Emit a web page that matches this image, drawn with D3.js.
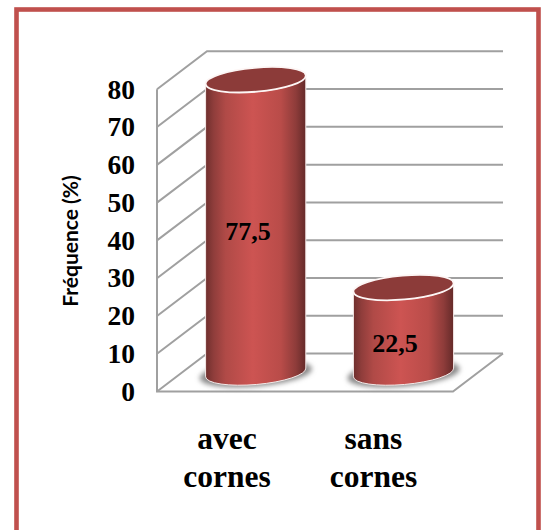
<!DOCTYPE html>
<html>
<head>
<meta charset="utf-8">
<script src="https://cdnjs.cloudflare.com/ajax/libs/d3/7.8.5/d3.min.js"></script>
<style>
html,body{margin:0;padding:0;background:#fff;overflow:hidden}
svg{display:block}
</style>
</head>
<body>
<svg id="chart" width="547" height="530"></svg>
<script>
// Chart data
const categories = [["avec", "cornes"], ["sans", "cornes"]];
const frequencies = [77.5, 22.5];
const valueLabels = ["77,5", "22,5"];
const tickValues = [0, 10, 20, 30, 40, 50, 60, 70, 80];
const axisTitle = "Fréquence (%)";

const svg = d3.select("#chart");
const defs = svg.append("defs");

// Pseudo-3D box: front plane plus a depth offset towards the back wall
const depthX = 50, depthY = -38;
const x = d3.scaleBand().domain([0, 1]).range([157, 453]).paddingInner(0.0).paddingOuter(0);
const y = d3.scaleLinear().domain([0, 80]).range([391.5, 89.3]);

// Red border round the whole figure
svg.append("rect")
  .attr("x", 16.5).attr("y", 9.5).attr("width", 522).attr("height", 540)
  .attr("fill", "#fff").attr("stroke", "#c0504d").attr("stroke-width", 4.6);

// Cylinder shading
const grad = defs.append("linearGradient").attr("id", "cyl");
[[0, "#6f2f2d"], [0.08, "#8f3d3b"], [0.2, "#b04a47"], [0.47, "#cd5452"], [0.75, "#b94c49"], [0.9, "#8e3c3a"], [1, "#642a29"]]
  .forEach(([o, c]) => grad.append("stop").attr("offset", o).attr("stop-color", c));
defs.append("filter").attr("id", "soft").attr("x", "-20%").attr("y", "-50%").attr("width", "140%").attr("height", "200%")
  .append("feGaussianBlur").attr("stdDeviation", 2.5);

// Walls and floor
const wall = svg.append("g").attr("fill", "none").attr("stroke", "#a0a0a0").attr("stroke-width", 2);
const [left, right] = x.range();
wall.selectAll("path.grid").data(tickValues).join("path").attr("class", "grid")
  .attr("d", d => d3.line()([
    [left, y(d)],
    [left + depthX, y(d) + depthY],
    [right + depthX, y(d) + depthY]
  ]));
wall.append("path").attr("d", d3.line()([[left, y(80)], [left, y(0)], [right, y(0)], [right + depthX, y(0) + depthY]]));

// Cylinders
const rx = 50.3, ry = 12, tilt = -5;
const cosT = Math.cos(tilt * Math.PI / 180), sinT = Math.sin(tilt * Math.PI / 180);
const baseY = y(0) + depthY / 2;
const offset = baseY - y(0);
const centers = [255.7, 403.5];

const bars = svg.append("g").selectAll("g").data(frequencies).join("g");

bars.append("ellipse")
  .attr("cx", (d, i) => centers[i]).attr("cy", baseY + 1)
  .attr("rx", rx + 6).attr("ry", ry + 1)
  .attr("transform", (d, i) => `rotate(${tilt} ${centers[i]} ${baseY})`)
  .attr("fill", "#8a8a8a").attr("filter", "url(#soft)");

bars.append("path")
  .attr("d", (d, i) => {
    const cx = centers[i], top = y(d) + offset;
    const lx = cx - rx * cosT, rxx = cx + rx * cosT;
    const ly = -rx * sinT, ry2 = rx * sinT;
    return `M${lx},${top + ly}L${lx},${baseY + ly}` +
      `A${rx},${ry} ${tilt} 0 0 ${rxx},${baseY + ry2}` +
      `L${rxx},${top + ry2}` +
      `A${rx},${ry} ${tilt} 0 1 ${lx},${top + ly}Z`;
  })
  .attr("fill", "url(#cyl)").attr("stroke", "#f4e9e8").attr("stroke-width", 1);

bars.append("ellipse")
  .attr("cx", (d, i) => centers[i]).attr("cy", d => y(d) + offset)
  .attr("rx", rx).attr("ry", ry)
  .attr("transform", (d, i) => `rotate(${tilt} ${centers[i]} ${y(d) + offset})`)
  .attr("fill", "#8c3b39").attr("stroke", "#fdf6f5").attr("stroke-width", 1.8);

// Value labels
const serif = "'Liberation Serif','Times New Roman',serif";
const labelY = [231, 343];
svg.append("g").selectAll("text").data(valueLabels).join("text")
  .attr("x", (d, i) => [248, 395][i]).attr("y", (d, i) => labelY[i])
  .attr("dy", "0.35em").attr("text-anchor", "middle")
  .attr("font-family", serif).attr("font-weight", "bold").attr("font-size", 26).attr("fill", "#000")
  .text(d => d);

// Value axis: labels only, the gridlines are drawn on the walls
const axis = svg.append("g").attr("transform", "translate(135,0)")
  .call(d3.axisLeft(y).tickValues(tickValues).tickSize(0).tickPadding(0).tickFormat(d3.format("d")));
axis.select(".domain").remove();
axis.selectAll("text")
  .attr("font-family", serif).attr("font-weight", "bold").attr("font-size", 27.5).attr("fill", "#000");

// Axis title
svg.append("text")
  .attr("transform", "translate(78,241) rotate(-90)")
  .attr("text-anchor", "middle").attr("font-family", "Lato,'Open Sans',sans-serif")
  .attr("font-weight", "bold").attr("font-size", 21).attr("fill", "#000")
  .text(axisTitle);

// Category labels, two lines each
const catCenters = [227, 373.5];
svg.append("g").selectAll("text").data(categories).join("text")
  .attr("font-family", serif).attr("font-weight", "bold").attr("font-size", 31.5).attr("fill", "#000")
  .attr("text-anchor", "middle")
  .each(function (lines, i) {
    d3.select(this).selectAll("tspan").data(lines).join("tspan")
      .attr("x", catCenters[i]).attr("y", (l, j) => 449 + j * 38).text(l => l);
  });
</script>
</body>
</html>
